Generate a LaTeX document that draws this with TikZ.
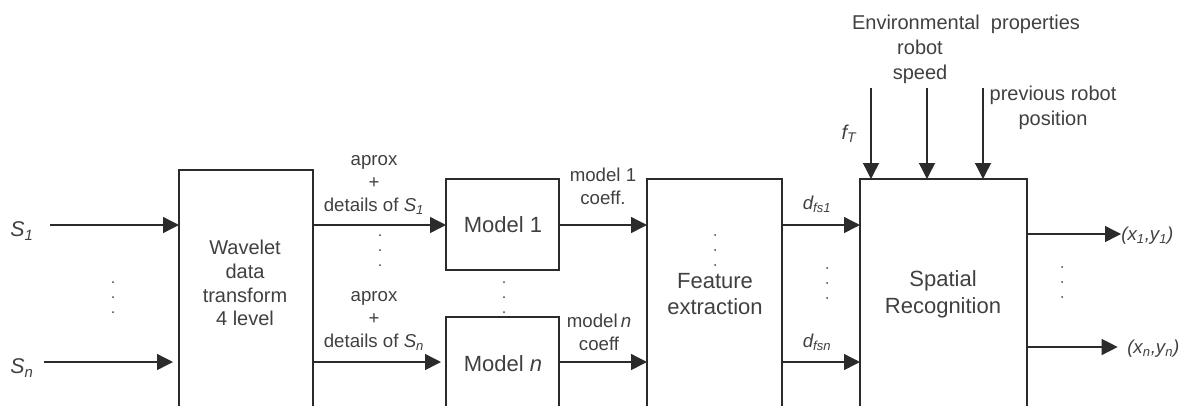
\documentclass[tikz,border=0pt]{standalone}
\usepackage{fontspec}
\setmainfont{Liberation Sans}
\usetikzlibrary{arrows.meta}
\definecolor{ln}{HTML}{2B2B2B}
\definecolor{tx}{HTML}{404040}
\begin{document}
\begin{tikzpicture}[x=0.75pt,y=-0.75pt,
 box/.style={draw=ln,line width=1pt,inner sep=0,outer sep=0,anchor=north west},
 arr/.style={draw=ln,line width=1.05pt,-{Triangle[length=12pt,width=12pt]}},
 lbl/.style={text=tx,align=center,inner sep=0,font=\fontsize{14}{17.2}\selectfont},
 toplbl/.style={text=tx,align=center,inner sep=0,font=\fontsize{15}{18.5}\selectfont},
 big/.style={text=tx,align=center,inner sep=0,font=\fontsize{16.5}{20.2}\selectfont},
 mid/.style={text=tx,align=center,inner sep=0,font=\fontsize{15}{17.8}\selectfont}]
\useasboundingbox (0,0) rectangle (1184,405);
\clip (0,0) rectangle (1184,405);
% boxes
\node[box,minimum width=100.5pt,minimum height=187.5pt] (wav) at (179,170) {};
\node[box,minimum width=84.75pt,minimum height=68.25pt] (m1) at (446,179) {};
\node[box,minimum width=84.75pt,minimum height=77.25pt] (mn) at (446,317) {};
\node[box,minimum width=101.25pt,minimum height=180.75pt] (fe) at (647,179) {};
\node[box,minimum width=125.25pt,minimum height=180.75pt] (sr) at (860,179) {};
% box texts
\node[mid] (wavt) at (245,283) {Wavelet\\data\\transform\\4 level};
\node[big] (m1t) at (503,225) {Model 1};
\node[big] (mnt) at (503,364) {Model \textit{n}};
\node[big] (fet) at (715,294) {Feature\\extraction};
\node[big] (srt) at (943,294) {Spatial\\Recognition};
% row coordinates
\coordinate (r1) at (0,225);
\coordinate (rn) at (0,362);
\coordinate (o1) at (0,234);
\coordinate (on) at (0,347);
% inputs
\node[lbl,font=\fontsize{16}{19}\selectfont,anchor=center] (s1) at (22,231) {\textit{S\textsubscript{1}}};
\node[lbl,font=\fontsize{16}{19}\selectfont,anchor=center] (sn) at (22,368) {\textit{S\textsubscript{n}}};
\coordinate (s1s) at (50,225);
\coordinate (sns) at (44,362);
\draw[arr] (s1s) -- (wav.west |- r1);
\draw[arr,shorten >=4.5pt] (sns) -- (wav.west |- rn);
% wavelet -> models
\draw[arr] (wav.east |- r1) -- (m1.west |- r1);
\draw[arr,shorten >=3.75pt] (wav.east |- rn) -- (mn.west |- rn);
\node[lbl] (a1) at (374,185) {aprox\\+\\details of \textit{S\textsubscript{1}}};
\node[lbl] (an) at (374,321) {aprox\\+\\details of \textit{S\textsubscript{n}}};
% models -> feature
\draw[arr] (m1.east |- r1) -- (fe.west |- r1);
\draw[arr] (mn.east |- rn) -- (fe.west |- rn);
\node[lbl] (c1) at (603,186) {model 1\\coeff.};
\node[lbl] (cn) at (599,332) {model\,\textit{n}\\coeff};
% feature -> spatial
\draw[arr] (fe.east |- r1) -- (sr.west |- r1);
\draw[arr] (fe.east |- rn) -- (sr.west |- rn);
\node[lbl] (d1) at (817,204) {\textit{d\textsubscript{fs1}}};
\node[lbl] (dn) at (817,342) {\textit{d\textsubscript{fsn}}};
% top inputs
\coordinate (t1) at (871,88);
\coordinate (t2) at (927,88);
\coordinate (t3) at (983,88);
\draw[arr] (t1) -- (t1 |- sr.north);
\draw[arr] (t2) -- (t2 |- sr.north);
\draw[arr] (t3) -- (t3 |- sr.north);
\node[toplbl] (env) at (966,24) {Environmental\ \ properties};
\node[toplbl] (spd) at (920,62) {robot\\speed};
\node[toplbl] (prev) at (1053,108) {previous robot\\position};
\node[lbl,font=\fontsize{15}{18}\selectfont] (ft) at (849,134) {\textit{f\textsubscript{T}}};
% outputs
\node[lbl,anchor=west] (xy1) at (1121,236) {\textit{(x\textsubscript{1},y\textsubscript{1})}};
\node[lbl,anchor=west] (xyn) at (1127,349) {\textit{(x\textsubscript{n},y\textsubscript{n})}};
\draw[arr] (sr.east |- o1) -- (xy1.west |- o1);
\draw[arr,shorten >=7pt] (sr.east |- on) -- (xyn.west |- on);
% dots
\foreach \x/\y in {113/282,380/235,504/282,715/235,827/268,1062/267}{
  \foreach \k in {0,15,30}{\fill[tx] (\x,\y+\k) circle (0.75pt);}
}
\end{tikzpicture}
\end{document}
